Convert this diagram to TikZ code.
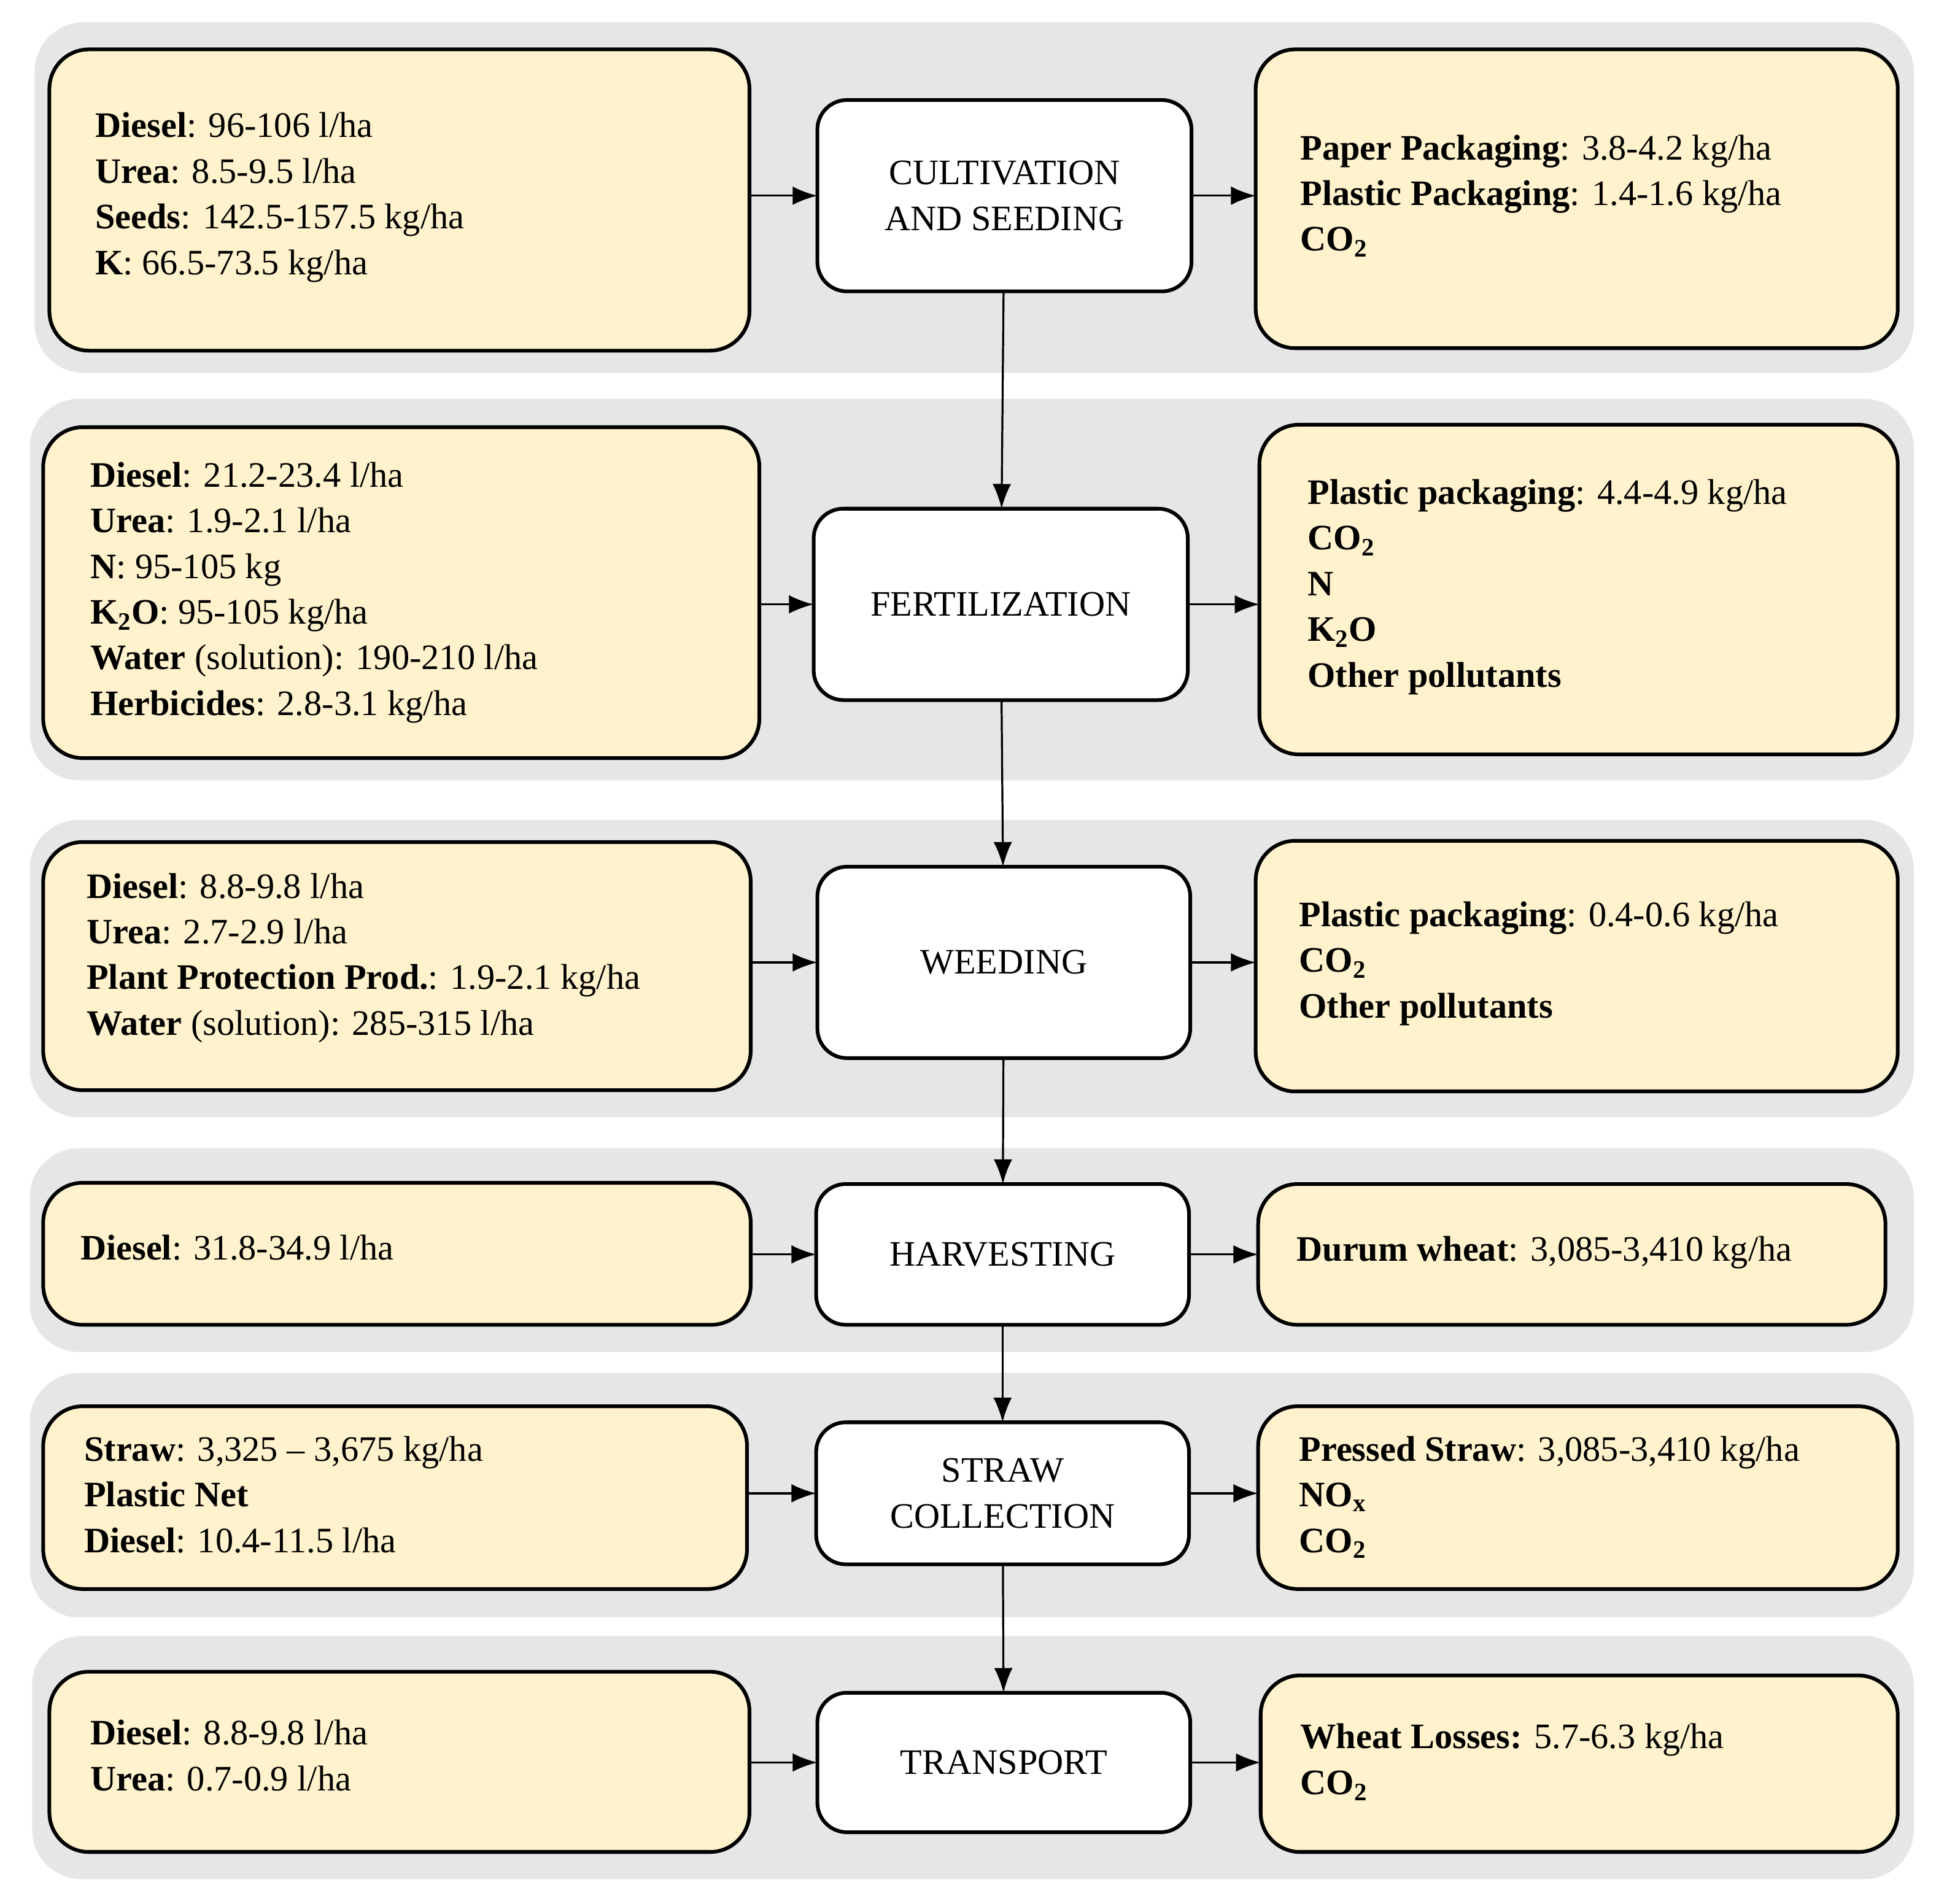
\documentclass[tikz,border=0pt]{standalone}
\usepackage{fontspec}
\setmainfont{Liberation Serif}
\usetikzlibrary{arrows.meta}
\definecolor{band}{HTML}{E6E6E6}
\definecolor{boxfill}{HTML}{FFF2CC}
\begin{document}
\begin{tikzpicture}[x=1pt,y=-1pt,
  band/.style={fill=band,rounded corners=40pt},
  io/.style={draw=black,line width=3pt,fill=boxfill,rounded corners=32pt,inner sep=0,outer sep=0},
  proc/.style={draw=black,line width=3pt,fill=white,rounded corners=24pt,inner sep=0,outer sep=0,align=center,font=\fontsize{29}{37}\selectfont},
  txt/.style={anchor=north west,inner sep=0,align=left,font=\fontsize{29}{37}\selectfont},
  arr/.style={line width=1.6pt,-{Latex[length=20pt,width=15pt]}}]
\useasboundingbox (0,0) rectangle (1568,1542);
% bands
\fill[band] (28,18) rectangle (1550,302);
\fill[band] (24,323) rectangle (1550,632);
\fill[band] (24,664) rectangle (1550,905);
\fill[band] (24,930) rectangle (1550,1095);
\fill[band] (24,1112) rectangle (1550,1310);
\fill[band] (26,1325) rectangle (1550,1522);
% left boxes
\node[io,minimum width=567pt,minimum height=244pt] (l1) at (323.5,162) {};
\node[io,minimum width=580pt,minimum height=268pt] (l2) at (325,480) {};
\node[io,minimum width=573pt,minimum height=201pt] (l3) at (321.5,782.5) {};
\node[io,minimum width=573pt,minimum height=115pt] (l4) at (321.5,1015.5) {};
\node[io,minimum width=570pt,minimum height=148pt] (l5) at (320,1213) {};
\node[io,minimum width=567pt,minimum height=146pt] (l6) at (323.5,1427) {};
% right boxes
\node[io,minimum width=520pt,minimum height=242pt] (r1) at (1277,161) {};
\node[io,minimum width=517pt,minimum height=267pt] (r2) at (1278.5,477.5) {};
\node[io,minimum width=520pt,minimum height=203pt] (r3) at (1277,782.5) {};
\node[io,minimum width=508pt,minimum height=114pt] (r4) at (1273,1016) {};
\node[io,minimum width=518pt,minimum height=148pt] (r5) at (1278,1213) {};
\node[io,minimum width=516pt,minimum height=143pt] (r6) at (1279,1428.5) {};
% process boxes
\node[proc,minimum width=303pt,minimum height=155pt] (c1) at (813.5,158.5) {CULTIVATION\\AND SEEDING};
\node[proc,minimum width=303pt,minimum height=155pt] (c2) at (810.5,489.5) {FERTILIZATION};
\node[proc,minimum width=302pt,minimum height=155pt] (c3) at (813,779.5) {WEEDING};
\node[proc,minimum width=302pt,minimum height=114pt] (c4) at (812,1016) {HARVESTING};
\node[proc,minimum width=302pt,minimum height=115pt] (c5) at (812,1209.5) {STRAW\\COLLECTION};
\node[proc,minimum width=302pt,minimum height=113pt] (c6) at (813,1427.5) {TRANSPORT};
% texts
\node[txt] (tl1) at (77,91) {\textbf{Diesel}: 96-106 l/ha\\\textbf{Urea}: 8.5-9.5 l/ha\\\textbf{Seeds}: 142.5-157.5 kg/ha\\\textbf{K}: 66.5-73.5 kg/ha};
\node[txt] (tl2) at (73,374) {\textbf{Diesel}: 21.2-23.4 l/ha\\\textbf{Urea}: 1.9-2.1 l/ha\\\textbf{N}: 95-105 kg\\\textbf{K\textsubscript{2}O}: 95-105 kg/ha\\\textbf{Water} (solution): 190-210 l/ha\\\textbf{Herbicides}: 2.8-3.1 kg/ha};
\node[txt] (tl3) at (70,707) {\textbf{Diesel}: 8.8-9.8 l/ha\\\textbf{Urea}: 2.7-2.9 l/ha\\\textbf{Plant Protection Prod.}: 1.9-2.1 kg/ha\\\textbf{Water} (solution): 285-315 l/ha};
\node[txt] (tl4) at (65,1000) {\textbf{Diesel}: 31.8-34.9 l/ha};
\node[txt] (tl5) at (68,1163) {\textbf{Straw}: 3,325 -- 3,675 kg/ha\\\textbf{Plastic Net}\\\textbf{Diesel}: 10.4-11.5 l/ha};
\node[txt] (tl6) at (73,1393) {\textbf{Diesel}: 8.8-9.8 l/ha\\\textbf{Urea}: 0.7-0.9 l/ha};
\node[txt] (tr1) at (1053,109) {\textbf{Paper Packaging}: 3.8-4.2 kg/ha\\\textbf{Plastic Packaging}: 1.4-1.6 kg/ha\\\textbf{CO\textsubscript{2}}};
\node[txt] (tr2) at (1059,388) {\textbf{Plastic packaging}: 4.4-4.9 kg/ha\\\textbf{CO\textsubscript{2}}\\\textbf{N}\\\textbf{K\textsubscript{2}O}\\\textbf{Other pollutants}};
\node[txt] (tr3) at (1052,730) {\textbf{Plastic packaging}: 0.4-0.6 kg/ha\\\textbf{CO\textsubscript{2}}\\\textbf{Other pollutants}};
\node[txt] (tr4) at (1050,1001) {\textbf{Durum wheat}: 3,085-3,410 kg/ha};
\node[txt] (tr5) at (1052,1163) {\textbf{Pressed Straw}: 3,085-3,410 kg/ha\\\textbf{NO\textsubscript{x}}\\\textbf{CO\textsubscript{2}}};
\node[txt] (tr6) at (1053,1396) {\textbf{Wheat Losses:} 5.7-6.3 kg/ha\\\textbf{CO\textsubscript{2}}};
% arrows
\foreach \i in {1,...,6}{
  \draw[arr] (l\i.east |- c\i) -- (c\i.west);
  \draw[arr] (c\i.east) -- (r\i.west |- c\i);
}
\draw[arr] (c1) -- (c2);
\draw[arr] (c2) -- (c3);
\draw[arr] (c3) -- (c4);
\draw[arr] (c4) -- (c5);
\draw[arr] (c5) -- (c6);
\end{tikzpicture}
\end{document}
